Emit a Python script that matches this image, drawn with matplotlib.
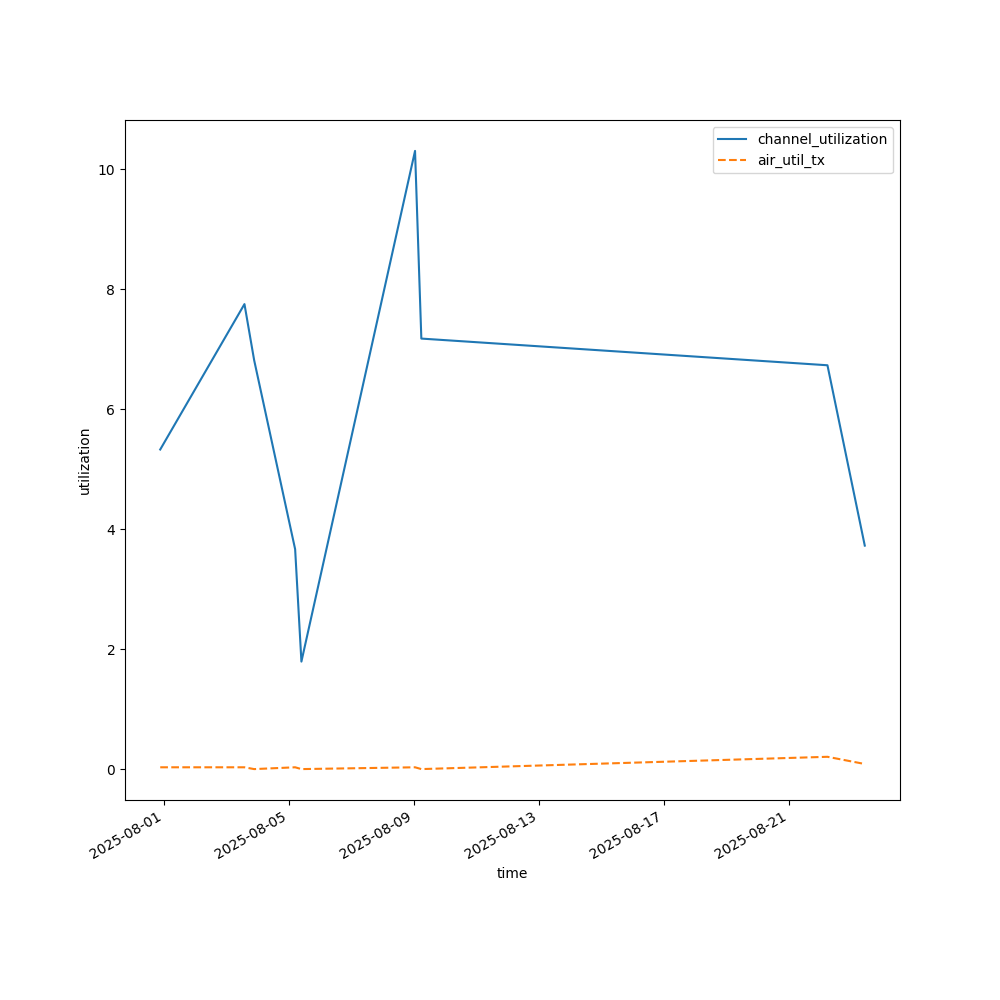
import pandas as pd
import matplotlib
matplotlib.use('Agg')
from matplotlib import pyplot as plt

times = pd.to_datetime([
    '2025-07-31 21:29', '2025-08-03 14:07', '2025-08-03 21:33',
    '2025-08-05 05:00', '2025-08-05 09:49', '2025-08-09 01:00',
    '2025-08-09 05:50', '2025-08-22 05:27', '2025-08-23 10:05',
])
channel_utilization = [5.33, 7.755, 6.82, 3.667, 1.793, 10.31, 7.18, 6.735, 3.727]
air_util_tx = [0.03, 0.03, 0.0, 0.03, 0.0, 0.03, 0.0, 0.205, 0.085]

if __name__ == '__main__':
    fig, ax = plt.subplots(figsize=(10, 10), dpi=100)
    ax.plot(times, channel_utilization, label='channel_utilization')
    ax.plot(times, air_util_tx, linestyle='--', label='air_util_tx')
    ax.set_xlabel('time')
    ax.set_ylabel('utilization')
    ax.legend()
    fig.autofmt_xdate()
    fig.savefig('out.png')
